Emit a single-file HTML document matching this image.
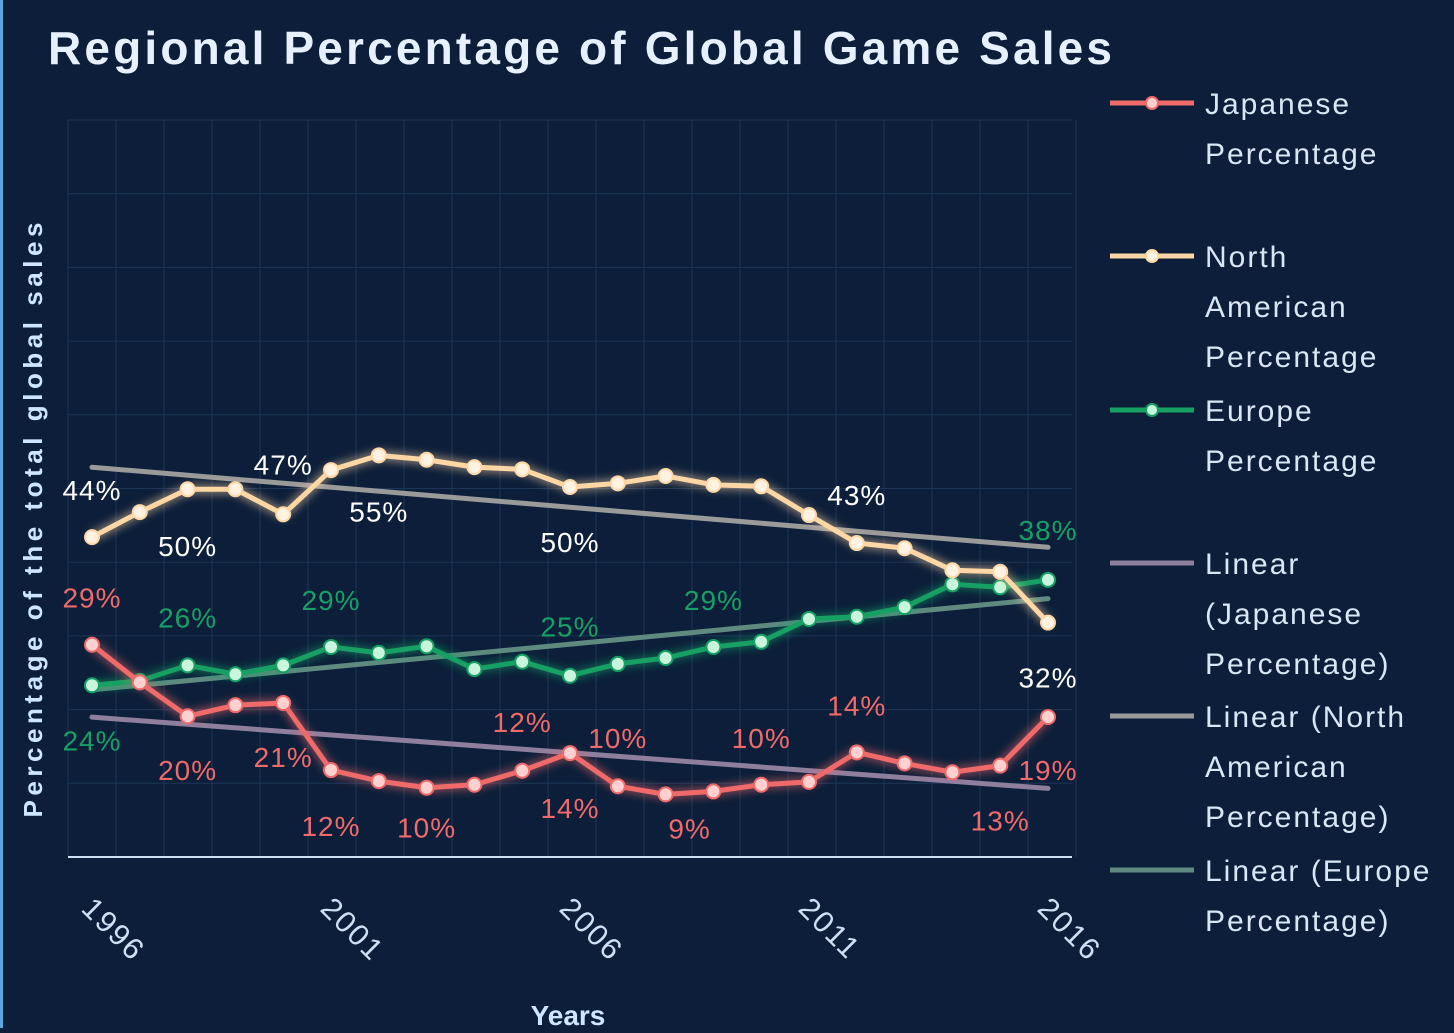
<!DOCTYPE html>
<html><head><meta charset="utf-8"><style>
body{margin:0;background:#0c1e39;width:1454px;height:1028px;overflow:hidden;font-family:"Liberation Sans",sans-serif}
</style></head><body>
<svg width="1454" height="1028" xmlns="http://www.w3.org/2000/svg">
<defs>
<filter id="glow" x="-20%" y="-20%" width="140%" height="140%"><feGaussianBlur stdDeviation="5" result="b"/><feMerge><feMergeNode in="b"/><feMergeNode in="SourceGraphic"/></feMerge></filter>
</defs>
<rect x="0" y="0" width="1454" height="1028" fill="#0c1e39"/>
<rect x="0" y="0" width="3" height="1028" fill="#5aa8e0"/>
<text x="48" y="64" font-size="46" font-weight="bold" fill="#e6f0ff" textLength="1064" lengthAdjust="spacing">Regional Percentage of Global Game Sales</text>
<g id="grid"></g>
<g id="trends"></g>
<g id="series"></g>
<g id="labels"></g>
<text transform="translate(42,520) rotate(-90)" text-anchor="middle" font-size="26" font-weight="bold" fill="#cfe6ff" textLength="595" lengthAdjust="spacing">Percentage of the total global sales</text>
<text x="568" y="1025" text-anchor="middle" font-size="28" font-weight="bold" fill="#cfe6ff">Years</text>
<g id="legend"></g>
</svg>
<script>
const years=[1996,1997,1998,1999,2000,2001,2002,2003,2004,2005,2006,2007,2008,2009,2010,2011,2012,2013,2014,2015,2016];
const japanese=[28.8,23.7,19.1,20.6,20.9,11.8,10.3,9.4,9.8,11.7,14.1,9.6,8.5,8.9,9.8,10.2,14.2,12.7,11.5,12.4,19];
const northAmerica=[43.4,46.8,49.9,49.9,46.5,52.5,54.5,53.9,52.9,52.6,50.2,50.7,51.7,50.5,50.3,46.4,42.6,41.9,38.9,38.7,31.8];
const europe=[23.3,23.9,26,24.8,26,28.5,27.7,28.6,25.5,26.5,24.6,26.2,27,28.5,29.2,32.3,32.6,33.9,37,36.6,37.6];
const xTicks=[1996,2001,2006,2011,2016];
const japLabels=[[0,"29%",-47,0],[2,"20%",54,0],[4,"21%",54,0],[5,"12%",56,0],[7,"10%",40,0],[9,"12%",-49,0],[10,"14%",55,0],[11,"10%",-48,0],[12,"9%",34,24],[14,"10%",-47,0],[16,"14%",-47,0],[19,"13%",55,0],[20,"19%",53,0]];
const naLabels=[[0,"44%",-47,0],[2,"50%",57,0],[4,"47%",-50,0],[6,"55%",56,0],[10,"50%",55,0],[16,"43%",-48,0],[20,"32%",55,0]];
const euLabels=[[0,"24%",55,0],[2,"26%",-48,0],[5,"29%",-47,0],[10,"25%",-49,0],[13,"29%",-47,0],[20,"38%",-50,0]];
const NS="http://www.w3.org/2000/svg";
const X=y=>92+(y-1996)*47.8;
const Y=v=>857-v*7.37;
function mk(tag,attrs,parent){const e=document.createElementNS(NS,tag);for(const k in attrs)e.setAttribute(k,attrs[k]);document.getElementById(parent).appendChild(e);return e;}
for(let i=0;i<=21;i++){const g=mk('line',{x1:68+i*48,x2:68+i*48,y1:120,y2:857,stroke:'#1d3658','stroke-width':1},'grid');

}
for(let v=10;v<=100;v+=10){const g=mk('line',{x1:68,x2:1072,y1:Y(v),y2:Y(v),stroke:'#1d3658','stroke-width':1},'grid');

}
const ax=mk('line',{x1:68,x2:1072,y1:857,y2:857,stroke:'#cfe0f5','stroke-width':2},'grid');


xTicks.forEach(t=>{const e=mk('text',{transform:`translate(${X(t)-12},${910}) rotate(45)`,'font-size':30,fill:'#cfe0f5','letter-spacing':2},'grid');e.textContent=t;

});
function trend(vals,color,name){const n=vals.length;let sx=0,sy=0,sxy=0,sxx=0;vals.forEach((v,i)=>{sx+=i;sy+=v;sxy+=i*v;sxx+=i*i});
const b=(n*sxy-sx*sy)/(n*sxx-sx*sx),a=(sy-b*sx)/n;
const l=mk('line',{x1:X(years[0]),y1:Y(a),x2:X(years[n-1]),y2:Y(a+b*(n-1)),stroke:color,'stroke-width':5,'stroke-linecap':'round'},'trends');

}
trend(japanese,'#8e7f9e','trend-japanese');
trend(northAmerica,'#9a9a9a','trend-north-america');
trend(europe,'#5f8a80','trend-europe');
function series(vals,color,pt,name){const d=vals.map((v,i)=>(i?'L':'M')+X(years[i])+','+Y(v)).join(' ');
const p=mk('path',{d,fill:'none',stroke:color,'stroke-width':5,filter:'url(#glow)','stroke-linejoin':'round'},'series');


vals.forEach((v,i)=>{const c=mk('circle',{cx:X(years[i]),cy:Y(v),r:7,fill:pt,stroke:color,'stroke-width':2},'series');

});}
series(europe,'#17a064','#c8f5dc','europe');
series(japanese,'#f06a6a','#ffd0d0','japanese');
series(northAmerica,'#ffd7a5','#fff2e0','north-america');
function labels(list,vals,color,name){list.forEach(([i,t,dy,dx])=>{
const e=mk('text',{x:X(years[i])+dx,y:Y(vals[i])+dy+10,'text-anchor':'middle','font-size':28,fill:color,'letter-spacing':1},'labels');e.textContent=t;

});}
labels(japLabels,japanese,'#f06a6a','japanese');
labels(naLabels,northAmerica,'#ffffff','north-america');
labels(euLabels,europe,'#17a064','europe');
const leg=[["#f06a6a","#ffd0d0",["Japanese","Percentage"],103],["#ffd7a5","#fff2e0",["North","American","Percentage"],256],["#17a064","#c8f5dc",["Europe","Percentage"],410],["#8e7f9e",null,["Linear","(Japanese","Percentage)"],563],["#9a9a9a",null,["Linear (North","American","Percentage)"],716],["#5f8a80",null,["Linear (Europe","Percentage)"],870]];
leg.forEach(([c,p,lines,y])=>{const l=mk('line',{x1:1110,x2:1194,y1:y,y2:y,stroke:c,'stroke-width':5},'legend');


if(p){const cc=mk('circle',{cx:1152,cy:y,r:6,fill:p,stroke:c,'stroke-width':2},'legend');

}
lines.forEach((t,j)=>{const e=mk('text',{x:1205,y:y+11+j*50,'font-size':30,fill:'#d8e6f5','letter-spacing':2},'legend');e.textContent=t;

});});
</script>
</body></html>
